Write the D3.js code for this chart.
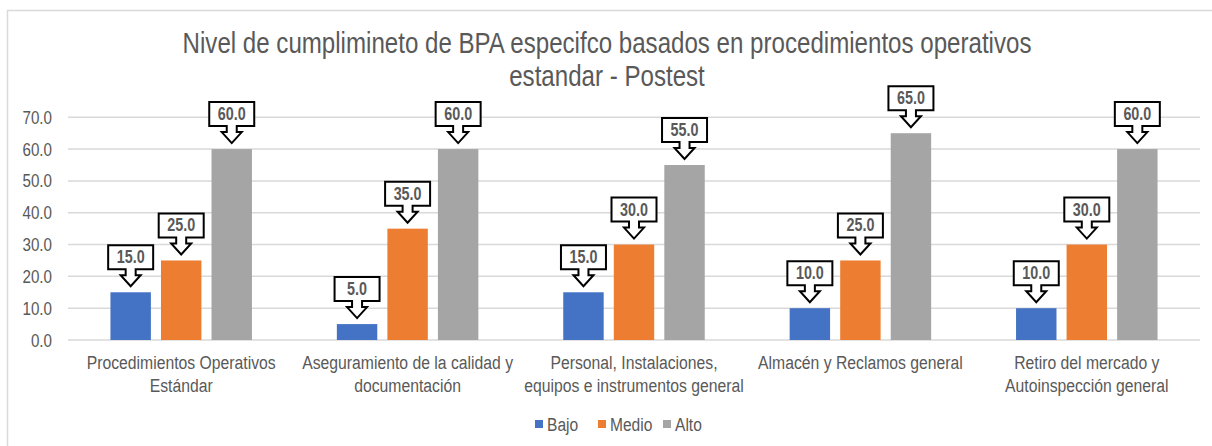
<!DOCTYPE html>
<html>
<head>
<meta charset="utf-8">
<script src="https://cdn.jsdelivr.net/npm/d3@7"></script>
<style>
  html, body { margin: 0; padding: 0; background: #fff; }
  svg { display: block; }
</style>
</head>
<body>
<svg id="chart" width="1212" height="446"></svg>
<script>
// ---------- DATA ----------
const categories = [
  "Procedimientos Operativos Estándar",
  "Aseguramiento de la calidad y documentación",
  "Personal, Instalaciones, equipos e instrumentos general",
  "Almacén y Reclamos general",
  "Retiro del mercado y Autoinspección general"
];
const categoryLines = [
  ["Procedimientos Operativos", "Estándar"],
  ["Aseguramiento de la calidad y", "documentación"],
  ["Personal, Instalaciones,", "equipos e instrumentos general"],
  ["Almacén y Reclamos general"],
  ["Retiro del mercado y", "Autoinspección general"]
];
const seriesNames = ["Bajo", "Medio", "Alto"];
const bajo  = [15, 5, 15, 10, 10];
const medio = [25, 35, 30, 25, 30];
const alto  = [60, 60, 55, 65, 60];
const yTicks = [0, 10, 20, 30, 40, 50, 60, 70];
const titleLines = [
  "Nivel de cumplimineto de BPA especifco basados en procedimientos operativos",
  "estandar - Postest"
];

const seriesValues = [bajo, medio, alto];
const colors = ["#4472C4", "#ED7D31", "#A5A5A5"];

// ---------- FONT ----------
const svg = d3.select("#chart");
function measure(fam, txt, size) {
  const t = svg.append("text").attr("font-family", fam).attr("font-size", size).text(txt);
  const w = t.node().getComputedTextLength();
  t.remove();
  return w;
}
const probe = "Procedimientos Operativos";
const wNarrow = measure("'Liberation Sans Narrow', 'zzzz'", probe, 20);
const wBase = measure("'Liberation Sans'", probe, 20);
const hasNarrow = wNarrow < wBase * 0.9;
const FONT = hasNarrow ? "'Liberation Sans Narrow'" : "'Liberation Sans'";
const SX = hasNarrow ? 1 : 0.82;   // horizontal compression fallback
const textColor = "#595959";

function addText(g, x, y, str, size, anchor, weight, fill) {
  return g.append("text")
    .attr("transform", `translate(${x},${y}) scale(${SX},1)`)
    .attr("font-family", FONT)
    .attr("font-size", size)
    .attr("font-weight", weight || "normal")
    .attr("text-anchor", anchor)
    .attr("fill", fill || textColor)
    .text(str);
}

// ---------- FRAME ----------
svg.append("rect")
  .attr("x", 7.5).attr("y", 10.5)
  .attr("width", 1220).attr("height", 460)
  .attr("fill", "#fff").attr("stroke", "#d9d9d9").attr("stroke-width", 1.5);

// ---------- SCALES ----------
const x0 = d3.scaleBand().domain(categories).range([68, 1200]).padding(0);
const x1 = d3.scaleBand().domain(seriesNames).range([0, x0.bandwidth()])
  .paddingInner(0.2).paddingOuter(0.84);
const y = d3.scaleLinear().domain([0, 70]).range([340, 117.3]);

// ---------- GRID ----------
const grid = svg.append("g");
grid.selectAll("line").data(yTicks).join("line")
  .attr("x1", 68).attr("x2", 1200)
  .attr("y1", d => y(d)).attr("y2", d => y(d))
  .attr("stroke", "#d9d9d9").attr("stroke-width", 1.5);

const yAxisG = svg.append("g");
yTicks.forEach(v => {
  addText(yAxisG, 52, y(v) + 6.5, d3.format(".1f")(v), 18.5, "end");
});

// ---------- BARS ----------
const barsG = svg.append("g");
categories.forEach((c, ci) => {
  seriesNames.forEach((s, si) => {
    const v = seriesValues[si][ci];
    barsG.append("rect")
      .attr("x", x0(c) + x1(s))
      .attr("y", y(v))
      .attr("width", x1.bandwidth())
      .attr("height", y(0) - y(v))
      .attr("fill", colors[si]);
  });
});

// ---------- CALLOUTS ----------
const calloutG = svg.append("g");
categories.forEach((c, ci) => {
  seriesNames.forEach((s, si) => {
    const v = seriesValues[si][ci];
    const cx = x0(c) + x1(s) + x1.bandwidth() / 2;
    const tip = y(v) - 6;
    const bw = 45, bTop = tip - 41, bBot = tip - 17, stemB = tip - 11;
    const sw = 5, hw = 10;
    const p = d3.path();
    p.moveTo(cx - bw / 2, bTop);
    p.lineTo(cx + bw / 2, bTop);
    p.lineTo(cx + bw / 2, bBot);
    p.lineTo(cx + sw, bBot);
    p.lineTo(cx + sw, stemB);
    p.lineTo(cx + hw, stemB);
    p.lineTo(cx, tip);
    p.lineTo(cx - hw, stemB);
    p.lineTo(cx - sw, stemB);
    p.lineTo(cx - sw, bBot);
    p.lineTo(cx - bw / 2, bBot);
    p.closePath();
    calloutG.append("path").attr("d", p.toString())
      .attr("fill", "#fff").attr("stroke", "#000").attr("stroke-width", 2)
      .attr("stroke-linejoin", "miter");
    addText(calloutG, cx, bBot - 6, d3.format(".1f")(v), 17.5, "middle", "bold");
  });
});

// ---------- X LABELS ----------
const xLab = svg.append("g");
categories.forEach((c, ci) => {
  const cx = x0(c) + x0.bandwidth() / 2;
  categoryLines[ci].forEach((ln, li) => {
    addText(xLab, cx, 369 + li * 22.7, ln, 19.2, "middle");
  });
});

// ---------- TITLE ----------
const titleG = svg.append("g");
addText(titleG, 607, 53, titleLines[0], 29.4, "middle");
addText(titleG, 607, 86, titleLines[1], 29.4, "middle");

// ---------- LEGEND ----------
const legG = svg.append("g");
const legX = [535, 598, 663];
seriesNames.forEach((s, i) => {
  legG.append("rect").attr("x", legX[i]).attr("y", 420).attr("width", 8).attr("height", 8)
    .attr("fill", colors[i]);
  addText(legG, legX[i] + 12, 430.5, s, 19, "start");
});
</script>
</body>
</html>
